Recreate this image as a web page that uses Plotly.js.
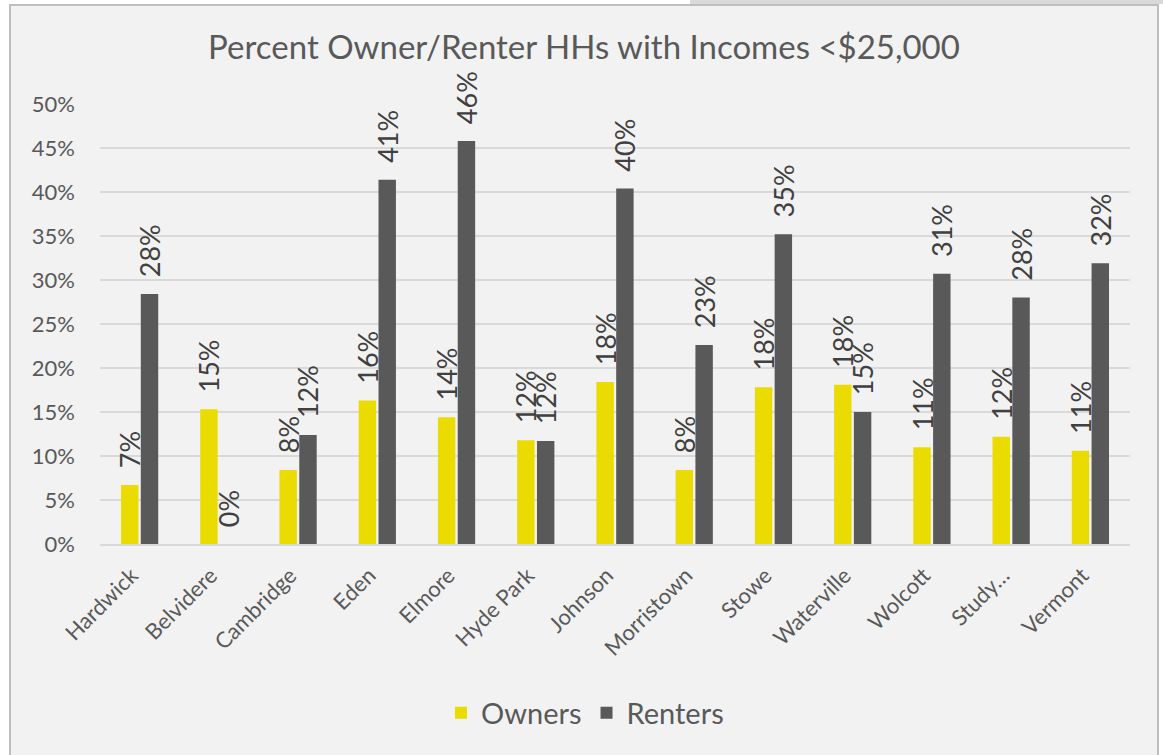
<!DOCTYPE html>
<html>
<head>
<meta charset="utf-8">
<script src="https://cdn.plot.ly/plotly-3.0.1.min.js"></script>
<style>html,body{margin:0;padding:0;background:#fff;}#chart{width:1163px;height:755px;}</style>
</head>
<body>
<div id="chart"></div>
<script>
const categories = ["Hardwick","Belvidere","Cambridge","Eden","Elmore","Hyde Park","Johnson","Morristown","Stowe","Waterville","Wolcott","Study…","Vermont"];
const owners  = [0.067, 0.153, 0.084, 0.163, 0.144, 0.118, 0.184, 0.084, 0.178, 0.181, 0.110, 0.122, 0.106];
const renters = [0.284, 0.000, 0.124, 0.414, 0.458, 0.117, 0.404, 0.226, 0.352, 0.150, 0.307, 0.280, 0.319];
const seriesNames = ["Owners","Renters"];
const titleText = "Percent Owner/Renter HHs with Incomes <$25,000";

const FONT = "Lato, 'Open Sans', sans-serif";
const labelFont = {family: FONT, size: 27, color: "#404040"};
const pad = "\u00a0\u00a0";

const traces = [
  {type:"bar", name:seriesNames[0], x:categories, y:owners, marker:{color:"#EADC00"},
   texttemplate:pad+"%{y:.0%}", textposition:"outside", textangle:-90, constraintext:"none",
   cliponaxis:false, textfont:labelFont, hoverinfo:"skip"},
  {type:"bar", name:seriesNames[1], x:categories, y:renters, marker:{color:"#595959"},
   texttemplate:pad+"%{y:.0%}", textposition:"outside", textangle:-90, constraintext:"none",
   cliponaxis:false, textfont:labelFont, hoverinfo:"skip"}
];

const L=100, R=1130, T=104, B=544;
const px = x => (x-L)/(R-L);
const py = y => (B-y)/(B-T);

const layout = {
  width:1163, height:755,
  margin:{l:L, r:1163-R, t:T, b:755-B, pad:0},
  paper_bgcolor:"#ffffff",
  plot_bgcolor:"#ffffff",
  font:{family:FONT, color:"#595959"},
  title:{text:titleText, font:{family:FONT, size:33, color:"#595959"},
         xref:"container", x:584/1163, xanchor:"center", yref:"container", y:1-47/755, yanchor:"middle"},
  barmode:"group", bargap:0.5, bargroupgap:0.12,
  showlegend:true,
  legend:{orientation:"h", x:px(585), xanchor:"center", y:py(713), yanchor:"middle",
          font:{family:FONT, size:29, color:"#595959"}, bgcolor:"rgba(0,0,0,0)", itemwidth:30},
  xaxis:{type:"category", tickangle:-45, tickfont:{family:FONT, size:22, color:"#595959"},
         showgrid:false, showline:true, linecolor:"#d9d9d9", linewidth:2, ticks:"",
         ticklabelstandoff:8, ticklabelshift:-8, fixedrange:true},
  yaxis:{range:[0,0.5], dtick:0.05, tickformat:".0%", tickfont:{family:FONT, size:22, color:"#595959"},
         showgrid:true, gridcolor:"#d9d9d9", gridwidth:2, zeroline:false, showline:false, ticks:"",
         ticklabelstandoff:24, fixedrange:true},
  shapes:[
    {type:"rect", xref:"paper", yref:"paper", x0:px(10), x1:px(1158), y0:py(5), y1:py(760),
     fillcolor:"#f2f2f2", line:{color:"#bfbfbf", width:2}, layer:"below"},
    {type:"rect", xref:"paper", yref:"paper", x0:px(690), x1:px(1165), y0:py(-2), y1:py(4),
     fillcolor:"#d9d9d9", line:{width:0}, layer:"below"}
  ]
};

Plotly.newPlot("chart", traces, layout, {displayModeBar:false, staticPlot:true});
</script>
</body>
</html>
